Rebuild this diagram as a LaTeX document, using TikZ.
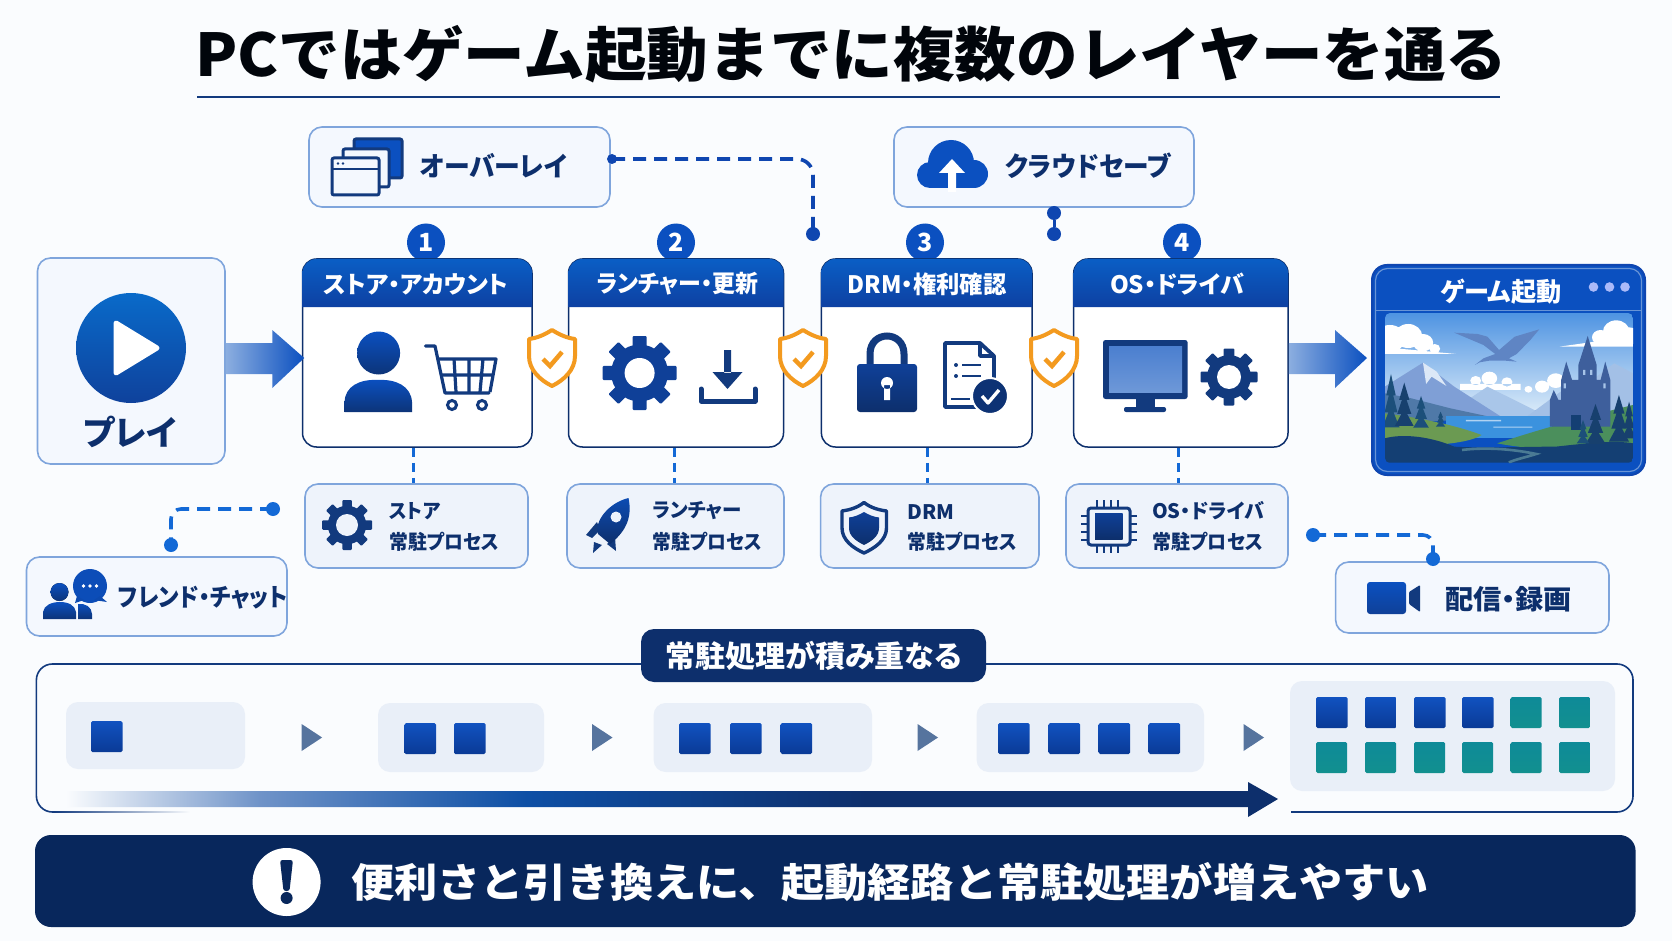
\documentclass[tikz,border=0pt]{standalone}
\usepackage{graphicx}
\usepackage{fontspec}
\usetikzlibrary{calc}
\setmainfont{Noto Sans CJK JP}
\newfontfamily\jpp{Noto Sans CJK JP}[RawFeature=+palt]

\definecolor{pagebg}{HTML}{FAFCFE}
\definecolor{navy}{HTML}{0D2F6C}
\definecolor{banner}{HTML}{08275C}
\definecolor{ink}{HTML}{123A7E}
\definecolor{royal}{HTML}{0B50C0}
\definecolor{deep}{HTML}{0F4098}
\definecolor{softfill}{HTML}{F4F8FE}
\definecolor{greyfill}{HTML}{EEF3FB}
\definecolor{softline}{HTML}{7FA5DC}
\definecolor{minifill}{HTML}{E9EFF8}
\definecolor{dashblue}{HTML}{1369D6}
\definecolor{linkblue}{HTML}{0F46B0}
\definecolor{amber}{HTML}{F39A1F}
\definecolor{pointer}{HTML}{56749E}
\definecolor{fadeA}{HTML}{6F93C8}
\definecolor{fadeB}{HTML}{0D4FA5}
\definecolor{blockhi}{HTML}{1152C0}
\definecolor{blocklo}{HTML}{0A3A96}
\definecolor{tealhi}{HTML}{0E8A98}
\definecolor{teallo}{HTML}{12908F}
% scenery palette
\definecolor{skyhi}{HTML}{4F94E2}
\definecolor{skylo}{HTML}{D6E8F8}
\definecolor{peakfar}{HTML}{A9C6E9}
\definecolor{peakmid}{HTML}{7F9FD6}
\definecolor{snow}{HTML}{DCE8F7}
\definecolor{hillblue}{HTML}{4F79A8}
\definecolor{wyrm}{HTML}{5F85C4}
\definecolor{keep}{HTML}{3E5F9C}
\definecolor{keeplit}{HTML}{A7C4E8}
\definecolor{lake}{HTML}{3B92DE}
\definecolor{meadowA}{HTML}{6B9A52}
\definecolor{meadowB}{HTML}{4B8F5C}
\definecolor{ground}{HTML}{143F73}
\definecolor{trail}{HTML}{4A7A94}
\definecolor{pineA}{HTML}{1C4F7A}
\definecolor{pineB}{HTML}{17406E}

% Text of a fixed width: set at the given size, squeezed or stretched to fit.
\newsavebox\ftbox
\newcommand\ft[3]{\sbox\ftbox{\fontsize{#2}{#2}\selectfont #3}%
  \pgfmathsetmacro\ftr{#1/\the\wd\ftbox}\scalebox{\ftr}[1]{\usebox\ftbox}}

\pgfdeclarehorizontalshading{growthbar}{100bp}{color(0bp)=(pagebg);color(25bp)=(pagebg);
  color(33bp)=(fadeA);color(44bp)=(fadeB);color(58bp)=(navy);color(100bp)=(navy)}

\tikzset{
  softbox/.style={draw=softline,line width=1.6pt,fill=softfill,rounded corners=13pt,inner sep=0pt},
  procbox/.style={draw=softline,line width=1.6pt,fill=greyfill,rounded corners=13pt,inner sep=0pt},
  minibox/.style={fill=minifill,rounded corners=12pt,inner sep=0pt},
  stepcard/.style={draw=navy,line width=1.5pt,fill=white,rounded corners=14pt,inner sep=0pt},
  label/.style={inner sep=0pt,text=navy,font=\jpp},
  whitelabel/.style={inner sep=0pt,text=white,font=\jpp},
  badge/.style={circle,fill=royal,text=white,minimum size=38pt,inner sep=0pt,font=\jpp},
  enddot/.style={circle,fill=#1,minimum size=14pt,inner sep=0pt},
  dashlink/.style={draw=dashblue,line width=3pt,dash pattern=on 9pt off 6pt},
  overlaylink/.style={draw=linkblue,line width=3.6pt,dash pattern=on 13pt off 8pt},
  sidelink/.style={draw=dashblue,line width=3.6pt,dash pattern=on 13pt off 8pt,rounded corners=10pt},
  blockblue/.style={top color=blockhi,bottom color=blocklo},
  iconblue/.style={top color=royal,bottom color=navy!85!royal},
  pointer tri/.style={fill=pointer},
}

% Box given by its corners, as a named node.
\newcommand\bx[6]{\node[#2,minimum width={(#5-#3)*1pt},minimum height={(#6-#4)*1pt}]
  (#1) at ({(#3+#5)/2},{(#4+#6)/2}) {};}

% Gear: centre x, y, outer radius, hole radius, hole colour, fill colour.
\newcommand\geargl[6]{\begin{scope}[shift={(#1,#2)}]
  \fill[#6] (0,0) circle[radius={.77*#3}];
  \foreach \a in {0,45,...,315}{
    \fill[#6,rotate=\a,rounded corners=1pt] ({-.19*#3},0) rectangle ({.19*#3},{#3});}
  \fill[#5] (0,0) circle[radius=#4];
\end{scope}}

% One numbered card of the launch chain with its blue title bar.
\newcommand\chaincard[8]{%
  \node[badge] (badge#1) at (#4,242.5) {\fontsize{25}{25}\selectfont\bfseries #5};
  \bx{card#1}{stepcard}{#2}{259}{#3}{447}
  \path[top color=royal!92!cyan,bottom color=linkblue!92!black,rounded corners=0pt]
    (#2,307) -- (#2,273) [rounded corners=14pt] -- (#2,259) -- (#3,259) [rounded corners=0pt] -- (#3,273) -- (#3,307) -- cycle;
  \node[whitelabel] (title#1) at (#6,284) {\ft{#7}{24}{\bfseries #8}};}

% Orange shield with a tick, sitting between two cards.
\newcommand\guard[2]{\begin{scope}[shift={(#2,358)}]
  \draw[amber,line width=4pt,fill=white,line join=round]
    (0,-28) .. controls (8,-23) and (15,-20) .. (23,-19) -- (23,-2)
    .. controls (23,12) and (12,22) .. (0,28) .. controls (-12,22) and (-23,12) .. (-23,-2)
    -- (-23,-19) .. controls (-15,-20) and (-8,-23) .. (0,-28) -- cycle;
  \draw[amber,line width=4.5pt] (-9,1) -- (-2,8) -- (10,-6);
  \coordinate (#1) at (0,0);
\end{scope}}

% Wide arrow whose shaft starts on one box and whose tip reaches the next.
\newcommand\flowarrow[3]{%
  \path[left color=softline!90!white,right color=royal]
    (#1.east |- 0,343) -- ($(#2.west |- 0,343)+(#3-32,0)$) -- ($(#2.west |- 0,330)+(#3-32,0)$)
    -- ($(#2.west |- 0,358)+(#3,0)$) -- ($(#2.west |- 0,388)+(#3-32,0)$)
    -- ($(#2.west |- 0,374)+(#3-32,0)$) -- (#1.east |- 0,374) -- cycle;}

% Two-line caption of a resident-process box.
\newcommand\proclabel[6]{%
  \node[label,anchor=west] (#1a) at (#2,#5) {\ft{#3}{20}{\bfseries #6}};
  \node[label,anchor=west] (#1b) at (#2,542) {\ft{#4}{20}{\bfseries 常駐プロセス}};}

% Scenery pine, in the scenery's own coordinates.
\newcommand\pine[5]{\fill[#5] (#1,#2) -- ({#1+#4*.55},{#2+#3*.4}) -- ({#1+#4*.25},{#2+#3*.4})
  -- ({#1+#4*.75},{#2+#3*.72}) -- ({#1+#4*.3},{#2+#3*.72}) -- (#1+#4,#2+#3) -- (#1-#4,#2+#3)
  -- ({#1-#4*.3},{#2+#3*.72}) -- ({#1-#4*.75},{#2+#3*.72}) -- ({#1-#4*.25},{#2+#3*.4}) -- ({#1-#4*.55},{#2+#3*.4}) -- cycle;}

\begin{document}
\begin{tikzpicture}[x=1pt,y=-1pt]
\useasboundingbox (0,0) rectangle (1672,941);
\fill[pagebg] (0,0) rectangle (1672,941);

% Title
\node[inner sep=0pt,text=black!90!navy] (headline) at (851.5,54)
  {\ft{1312}{59}{\bfseries PCではゲーム起動までに複数のレイヤーを通る}};
\draw[ink,line width=2.4pt] (197,97) -- (1500,97);

% Optional layers above the chain
\bx{overlay}{softbox}{309}{127}{610}{207}
\bx{cloudsave}{softbox}{894}{127}{1194}{207}
\node[label] (overlaytxt) at (493.5,166) {\ft{147}{27}{\bfseries オーバーレイ}};
\node[label] (cloudtxt) at (1088,166) {\ft{165}{27}{\bfseries クラウドセーブ}};

% Overlay icon: three stacked windows
\draw[ink,line width=3pt,rounded corners=2pt,fill=royal] (354,139) rectangle (402,178);
\draw[ink,line width=3pt,rounded corners=2pt,fill=softfill] (343,149) rectangle (389,187);
\draw[ink,line width=3pt,rounded corners=2pt,fill=softfill] (332,158) rectangle (379,195);
\draw[ink,line width=2.4pt] (332,169) -- (379,169);
\fill[ink] (338,163.5) circle[radius=1.3] (343,163.5) circle[radius=1.3];

% Cloud upload icon
\fill[royal] (951,163) circle[radius=23] (930,175) circle[radius=13] (974,174) circle[radius=14];
\fill[royal] (930,168) rectangle (974,188);
\fill[white,line join=round] (952,159) -- (965,173) -- (956,173) -- (956,192) -- (948,192) -- (948,173) -- (939,173) -- cycle;

% The chain of four stages
\chaincard{1}{302.5}{532}{426}{1}{416}{185}{ストア・アカウント}
\chaincard{2}{568.5}{783.5}{676}{2}{677.5}{162}{ランチャー・更新}
\chaincard{3}{821.4}{1032}{925}{3}{927}{159}{DRM・権利確認}
\chaincard{4}{1073.7}{1288}{1182}{4}{1177}{134}{OS・ドライバ}

% Start tile
\bx{play}{softbox}{37.5}{258}{225}{464}
\shade[top color=royal!85!cyan,bottom color=deep!90!royal] (131,348) circle[radius=55];
\fill[white,draw=white,line width=5pt,line join=round] (116,323) -- (157,348) -- (116,373) -- cycle;
\node[label] (playtxt) at (130,432) {\ft{93}{34}{\bfseries プレイ}};

% Launched game window
\bx{game}{draw=linkblue,line width=2pt,fill=royal,rounded corners=15pt,inner sep=0pt}{1372}{265}{1645}{475}
\draw[softline!80!royal,line width=1.2pt,rounded corners=12pt] (1375.5,268.5) rectangle (1641.5,471.5);
\draw[softline!80!royal,line width=1pt] (1375.5,310) -- (1641.5,310);
\node[whitelabel] (gametxt) at (1501,292) {\ft{121}{26}{\bfseries ゲーム起動}};
\fill[skylo!80!blue] (1593.5,287) circle[radius=4.8] (1609.5,287) circle[radius=4.8] (1625,287) circle[radius=4.8];

% Scenery inside the game window
\begin{scope}
\clip[rounded corners=5pt] (1385,313) rectangle (1633,463);
\begin{scope}[shift={(1060,230)},x=0.3903pt,y=-0.3333pt]
  \shade[top color=skyhi,bottom color=skylo] (832,250) rectangle (1468,540);
  % clouds
  \fill[white] (845,325) circle[radius=40] (892,318) circle[radius=36] (930,338) circle[radius=26] (960,356) circle[radius=14]
    (832,352) -- (1015,372) -- (832,372) -- cycle;
  \fill[white] (1425,305) circle[radius=34] (1385,322) circle[radius=22] (1458,318) circle[radius=26]
    (1280,350) -- (1400,330) -- (1468,330) -- (1468,350) -- cycle;
  \fill[white] (1100,445) circle[radius=20] (1065,452) circle[radius=14] (1145,456) circle[radius=14]
    (1025,462) rectangle (1180,480);
  \fill[white] (1235,470) circle[radius=18] (1270,452) circle[radius=22] (1200,478) circle[radius=10];
  % distant peaks
  \fill[peakfar] (980,560) -- (1095,470) -- (1250,560) -- cycle;
  \fill[peakfar!85!peakmid] (1190,565) -- (1300,470) -- (1340,470) -- (1420,400) -- (1468,430) -- (1468,565) -- cycle;
  \fill[peakmid] (832,470) -- (930,398) -- (1010,470) -- (1130,560) -- (832,575) -- cycle;
  \fill[snow] (930,398) -- (965,425) -- (990,468) -- (952,440) -- (938,462) -- cycle;
  \fill[hillblue] (832,490) -- (900,505) -- (1000,535) -- (1120,565) -- (832,580) -- cycle;
  % dragon
  \fill[wyrm]
    (1063,405) -- (1085,385) -- (1115,372) -- (1085,345) -- (1010,308) -- (1070,312) -- (1095,320) -- (1125,360)
    -- (1165,320) -- (1228,298) -- (1205,330) -- (1170,372) -- (1150,385) -- (1170,395) -- (1140,392) -- (1100,392) -- (1075,397) -- cycle;
  % lake, meadows and foreground
  \fill[lake] (990,558) rectangle (1260,625);
  \fill[white!60!lake] (1040,570) rectangle (1130,574) (1110,590) rectangle (1210,593);
  \fill[meadowA] (832,550) .. controls (900,560) and (1000,580) .. (1080,615) .. controls (1050,640) and (950,650) .. (832,650) -- cycle;
  \fill[meadowB] (1468,525) .. controls (1380,550) and (1250,590) .. (1120,640) .. controls (1200,660) and (1400,670) .. (1468,670) -- cycle;
  \fill[ground] (832,625) .. controls (880,610) and (950,620) .. (1010,650) .. controls (1080,655) and (1200,650) .. (1270,650) .. controls (1350,640) and (1420,630) .. (1468,640) -- (1468,698) -- (832,698) -- cycle;
  \draw[trail,line width=2.6pt] (1030,660) .. controls (1100,650) and (1170,660) .. (1220,672) .. controls (1200,680) and (1160,690) .. (1150,698);
  % castle
  \fill[keep] (1255,590) -- (1255,510) -- (1265,480) -- (1277,510) -- (1284,510) -- (1284,450) -- (1297,395) -- (1312,450) -- (1328,450) -- (1328,405) -- (1352,318) -- (1375,405) -- (1375,450) -- (1385,450) -- (1397,395) -- (1410,450) -- (1410,590) -- cycle;
  \fill[keeplit] (1340,420) rectangle (1346,435) (1358,420) rectangle (1364,435) (1290,460) rectangle (1296,475) (1392,460) rectangle (1398,475);
  \fill[ground] (1310,555) rectangle (1336,600);
  % woods
  \pine{848}{432}{160}{22}{pineA}
  \pine{882}{458}{130}{24}{pineB}
  \pine{925}{498}{95}{20}{pineA}
  \pine{975}{545}{45}{12}{pineA}
  \pine{1432}{495}{140}{26}{pineB}
  \pine{1372}{522}{120}{26}{pineB}
  \pine{1340}{570}{70}{16}{pineA}
  \pine{1458}{515}{110}{18}{pineB}
\end{scope}
\end{scope}

% Flow arrows
\flowarrow{play}{card1}{2.5}
\flowarrow{card4}{game}{-4}

% Shields
\guard{guardA}{552}
\guard{guardB}{803}
\guard{guardC}{1054}

% Icons of stage 1: person and cart
\shade[iconblue] (378.6,353) circle[radius=21.5];
\path[iconblue] (344.6,412) -- (344.6,402) .. controls (345,386) and (360,379) .. (378,380) .. controls (396,379) and (411,386) .. (412,402) -- (412,412) -- cycle;
\draw[ink,line width=3.2pt,line join=round,line cap=round] (425.5,346) -- (435,346) -- (445,393) -- (489,393);
\draw[ink,line width=3.2pt,line join=round] (439,359) -- (496,359) -- (490,392) (442,375) -- (493,375)
  (454,359) -- (456,392) (469,359) -- (469,392) (483,359) -- (480,392);
\draw[ink,line width=3pt] (452,405) circle[radius=4.5] (482,405) circle[radius=4.5];

% Icons of stage 2: gear and download
\geargl{639.6}{373}{37}{15}{white}{deep}
\fill[ink] (724,350) rectangle (731,373) (712.5,372) -- (742.5,372) -- (727.5,389) -- cycle;
\draw[ink,line width=5pt,line join=round,line cap=round] (701,389) -- (701,401) -- (755,401) -- (755,389);

% Icons of stage 3: padlock and certified document
\draw[ink,line width=7pt] (870,366) -- (870,354) .. controls (870,330) and (904,330) .. (904,354) -- (904,366);
\path[top color=deep,bottom color=navy,rounded corners=3pt] (857,364) rectangle (917,412);
\fill[white] (887,383) circle[radius=6] (884,385) rectangle (890,400);
\draw[ink,line width=3.8pt,line join=round,fill=white] (980,343) -- (945,343) -- (945,407) -- (994,407) -- (994,356) -- cycle;
\draw[ink,line width=3.8pt,line join=round] (980,343) -- (980,356) -- (994,356);
\fill[ink] (956,365) circle[radius=2] (956,376) circle[radius=2];
\draw[ink,line width=2.6pt] (962,365) -- (981,365) (962,376) -- (981,376) (951,399) -- (970,399);
\draw[white,line width=2pt,fill=navy!90!royal] (990,396) circle[radius=18];
\draw[white,line width=3.4pt,line join=round] (982,396) -- (988,403) -- (999,390);

% Icons of stage 4: monitor and gear
\fill[ink,rounded corners=2.5pt] (1103,340) rectangle (1187.6,399);
\path[top color=softline!55!royal,bottom color=softline!85!royal] (1109,346) rectangle (1182,392);
\fill[ink] (1136,399) rectangle (1155,408);
\fill[ink,rounded corners=2pt] (1124,407) rectangle (1166,412);
\geargl{1229}{377}{28.5}{12}{white}{ink}

% Resident-process boxes with their dotted drops
\bx{proc1}{procbox}{305}{484}{528}{568}
\bx{proc2}{procbox}{567}{484}{784}{568}
\bx{proc3}{procbox}{820.6}{484}{1039}{568}
\bx{proc4}{procbox}{1066}{484}{1288}{568}
\foreach \k/\px in {1/413,2/674.5,3/927,4/1178}{
  \coordinate (dropx\k) at (\px,0);
  \draw[dashlink] (dropx\k |- card\k.south) -- (dropx\k |- proc\k.north);}

\geargl{347}{525}{25}{11}{greyfill}{ink}
\proclabel{p1}{389}{51}{110}{511}{ストア}
\proclabel{p2}{652}{89}{110}{511}{ランチャー}
\proclabel{p3}{907}{47}{110}{512}{DRM}
\proclabel{p4}{1152}{112}{111}{511}{OS・ドライバ}

% Rocket icon
\fill[ink] (597,522) -- (586,535) -- (592,538) -- (600,530) -- cycle
  (594,542) -- (593,553) -- (602,545) -- cycle
  (615,537) -- (616,551) -- (607,544) -- cycle;
\path[top color=royal!80!ink,bottom color=navy] (628.5,498) .. controls (632,515) and (628,530) .. (610,544) -- (598,534)
  .. controls (594,522) and (608,503) .. (628.5,498) -- cycle;
\fill[greyfill] (616,517) circle[radius=5.5];

% Shield icon
\draw[ink,line width=3.4pt,fill=greyfill,line join=round] (864,502.5) .. controls (871,508) and (879,510) .. (886.5,511) -- (886.5,528)
  .. controls (886.5,540) and (875,548) .. (864,553) .. controls (853,548) and (842,540) .. (842,528) -- (842,511)
  .. controls (849,510) and (857,508) .. (864,502.5) -- cycle;
\path[top color=deep,bottom color=navy] (864,512) .. controls (869,515) and (874,517) .. (879,517.5) -- (879,528)
  .. controls (879,536) and (872,541) .. (864,545) .. controls (856,541) and (849,536) .. (849,528) -- (849,517.5)
  .. controls (854,517) and (859,515) .. (864,512) -- cycle;

% Chip icon
\draw[ink,line width=2.4pt] (1097,500) -- (1097,553) (1104,500) -- (1104,553) (1111,500) -- (1111,553) (1118,500) -- (1118,553)
  (1081,516) -- (1136.5,516) (1081,524) -- (1136.5,524) (1081,532) -- (1136.5,532) (1081,540) -- (1136.5,540);
\draw[ink,line width=3pt,fill=greyfill,rounded corners=3pt] (1088,508) rectangle (1130,545);
\path[top color=deep,bottom color=navy] (1095,513) rectangle (1122.6,539);

% Side features with their connectors
\bx{friend}{softbox}{26.5}{557}{287}{636}
\bx{stream}{softbox}{1335.6}{562}{1609}{633}
\node[label,anchor=west] (friendtxt) at (118,598) {\ft{169}{25}{\bfseries フレンド・チャット}};
\node[label] (streamtxt) at (1508.5,599) {\ft{127}{27}{\bfseries 配信・録画}};

% Friends icon
\fill[iconblue] (59.5,592) circle[radius=9];
\path[iconblue] (43,619) -- (43,612) .. controls (44,605) and (52,602) .. (60,602) .. controls (68,602) and (75,605) .. (76,612) -- (76,619) -- cycle;
\path[iconblue] (78,619) -- (78,604) .. controls (85,603) and (92,607) .. (92,614) -- (92,619) -- cycle;
\fill[royal!80!deep] (90,586) circle[radius=17];
\fill[royal!60!deep] (77,596) -- (75,603) -- (84,600) -- cycle (100,596) -- (107,602) -- (94,600) -- cycle;
\fill[white] (83.5,586) circle[radius=1.8] (90,586) circle[radius=1.8] (96.5,586) circle[radius=1.8];

% Camera icon
\path[top color=royal,bottom color=deep,rounded corners=3pt] (1367,582) rectangle (1406,614);
\fill[ink,rounded corners=1pt] (1409,592) -- (1420,585) -- (1420,612) -- (1409,604) -- cycle;

\node[enddot=dashblue] (fdotA) at (273,509) {};
\node[enddot=dashblue] (fdotB) at (171,545) {};
\draw[sidelink] (fdotA.center) -- (fdotB.center |- fdotA.center) -- (fdotB.center);
\node[enddot=dashblue] (sdotA) at (1313,535) {};
\node[enddot=dashblue] (sdotB) at (1433,559) {};
\draw[sidelink] (sdotA.center) -- (sdotB.center |- sdotA.center) -- (sdotB.center);

\node[circle,fill=linkblue,minimum size=10pt,inner sep=0pt] (odotA) at (612,159) {};
\node[enddot=linkblue] (odotB) at (813,234) {};
\draw[overlaylink,rounded corners=16pt] (odotA.center) -- (odotB.center |- odotA.center) -- (odotB.center);
\node[enddot=linkblue] (cdotA) at (1054,213) {};
\node[enddot=linkblue] (cdotB) at (1054,234) {};
\draw[linkblue,line width=3pt] (cdotA) -- (cdotB);

% Piling-up panel
\draw[ink,line width=1.6pt,rounded corners=16pt] (1291,812) -- (1633,812) -- (1633,664) -- (36.4,664) -- (36.4,812) -- (54,812);
\shade[left color=ink,right color=pagebg] (54,811.2) rectangle (190,812.8);
\node[fill=navy,text=white,rounded corners=13pt,inner sep=0pt,minimum width=345pt,minimum height=53pt,font=\jpp] (pileup) at (813.5,655.5)
  {\ft{296}{30}{\bfseries 常駐処理が積み重なる}};

\bx{mini1}{minibox}{66}{702}{245}{769}
\bx{mini2}{minibox}{378}{703}{544}{772}
\bx{mini3}{minibox}{653.6}{703}{872}{772}
\bx{mini4}{minibox}{976.6}{703}{1204}{772}
\bx{mini5}{minibox}{1290}{681}{1615}{791}

\foreach \bxx/\byy in {91/721,404.5/723,454/723,679/723,730/723,780.5/723,998/723,1048.6/723,1098.5/723,1148.5/723,
                       1316/697,1365/697,1414/697,1462/697}{
  \path[blockblue,rounded corners=1.5pt] (\bxx,\byy) rectangle ({\bxx+31.5},{\byy+31});}
\foreach \bxx/\byy in {1510.5/697,1559/697,1316/742,1365/742,1414/742,1462/742,1510.5/742,1559/742}{
  \path[top color=tealhi,bottom color=teallo,rounded corners=1.5pt] (\bxx,\byy) rectangle ({\bxx+31},{\byy+31});}

\foreach \tx in {301.6,592,917.5,1243.5}{
  \fill[pointer tri] (\tx,724) -- ({\tx+20.5},737.5) -- (\tx,751) -- cycle;}

% Growth arrow under the blocks
\shade[shading=growthbar] (66,791) -- (1248,791) -- (1248,782) -- (1278,799) -- (1248,817) -- (1248,807) -- (66,807) -- cycle;

% Closing banner
\bx{closing}{fill=banner,rounded corners=16pt,inner sep=0pt}{35}{835}{1635.6}{927}
\node[circle,fill=white,minimum size=68pt,inner sep=0pt] (alert) at (286.6,882) {};
\fill[banner,rounded corners=2.5pt] (280,860) -- (293,860) -- (289.5,891) -- (283.5,891) -- cycle;
\fill[banner] (286.6,898) circle[radius=6];
\node[whitelabel,font=\normalfont] (closingtxt) at (890,882)
  {\ft{1078}{40}{\bfseries 便利さと引き換えに、起動経路と常駐処理が増えやすい}};
\end{tikzpicture}
\end{document}
